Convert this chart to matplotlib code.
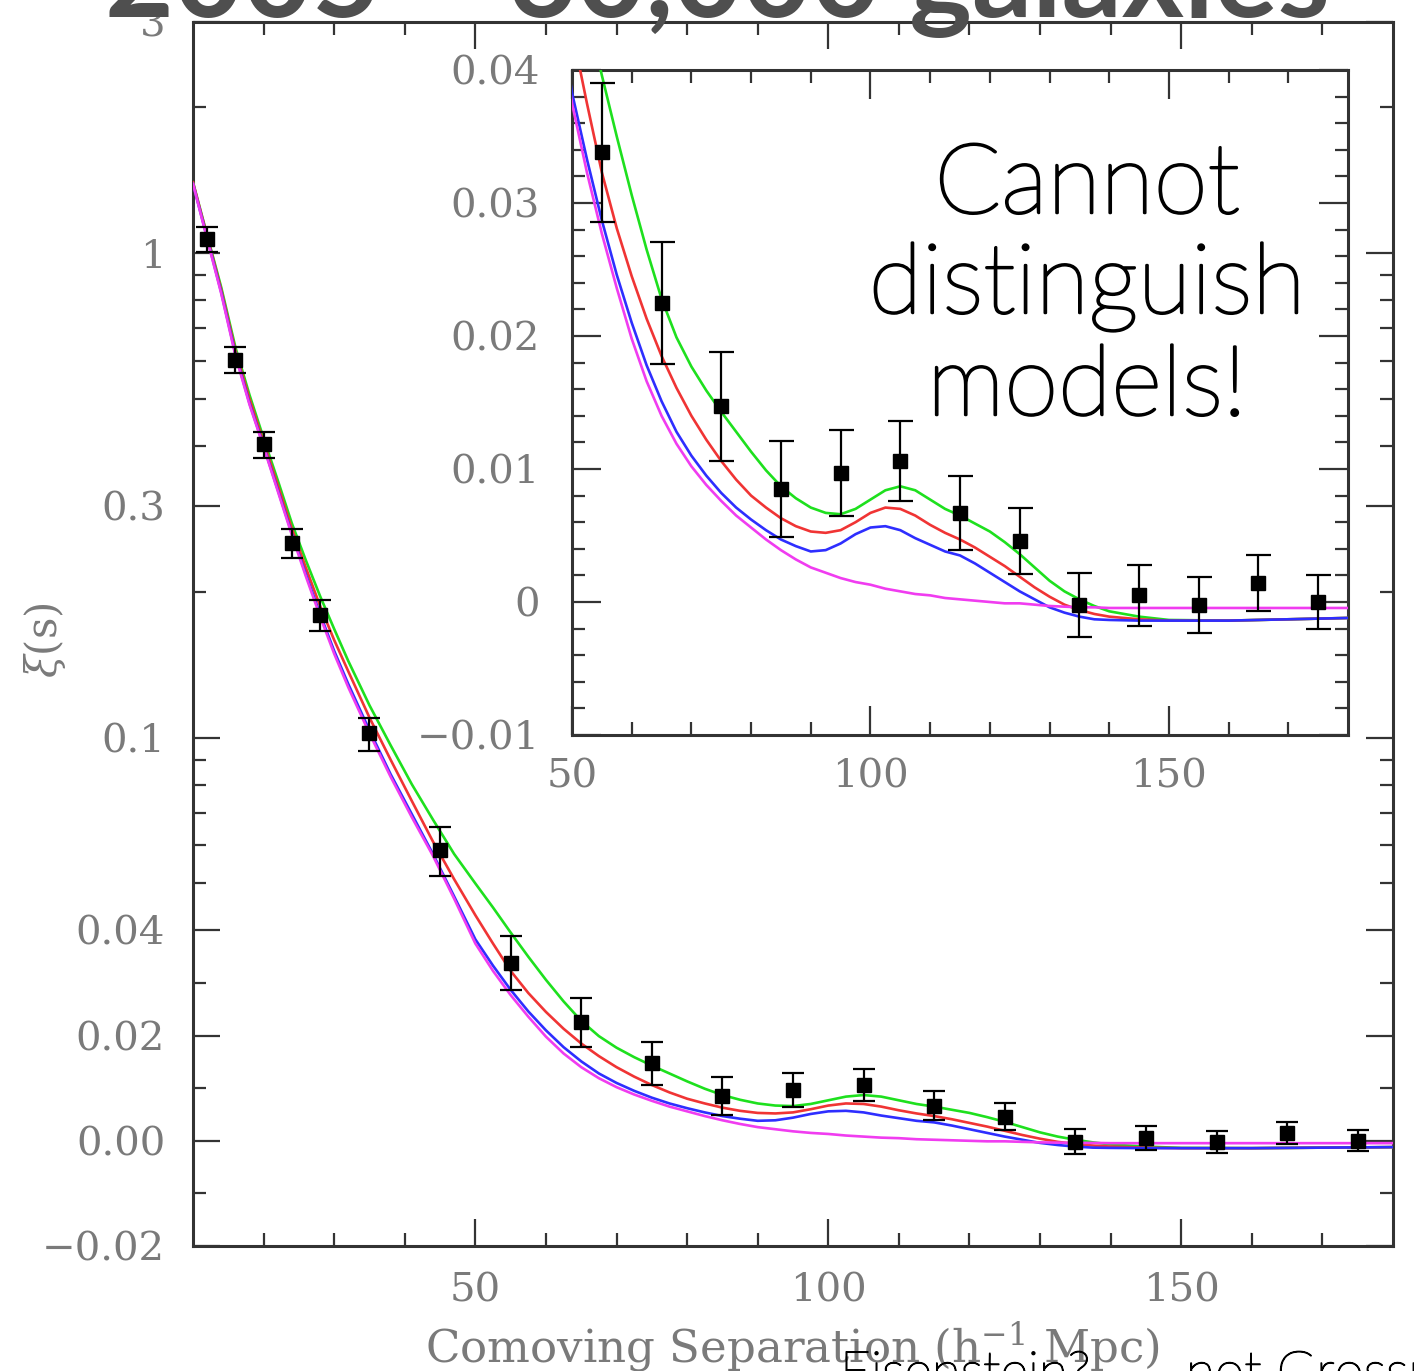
import numpy as np
import matplotlib
matplotlib.use("Agg")
import matplotlib.pyplot as plt
import matplotlib.patheffects as pe
from matplotlib.ticker import FixedLocator, FixedFormatter, NullFormatter

# ---------------- data ----------------
X_CURVE = [10, 12, 14, 16, 18, 20, 22, 24, 26, 28, 30, 32, 35, 38, 41, 44, 47,
           50, 52.5, 55, 57.5, 60, 62.5, 65, 67.5, 70, 72.5, 75, 77.5, 80, 82.5,
           85, 87.5, 90, 92.5, 95, 97.5, 100, 102.5, 105, 107.5, 110, 112.5, 115,
           117.5, 120, 122.5, 125, 127.5, 130, 132.5, 135, 137.5, 140,
           145, 150, 160, 170, 180]

GREEN = [1.40, 1.09, 0.85, 0.64, 0.51, 0.415, 0.340, 0.277, 0.232, 0.196, 0.1676, 0.1439, 0.1166, 0.0964, 0.0801, 0.0677, 0.0575,
         0.0500, 0.0446, 0.0396, 0.0350, 0.0306, 0.0265, 0.0228, 0.0199, 0.0177, 0.0159, 0.0143, 0.0128, 0.0113, 0.0099,
         0.0087, 0.0078, 0.0071, 0.0067, 0.0066, 0.0070, 0.0077, 0.0084, 0.0087, 0.0084, 0.0077, 0.0070, 0.0065,
         0.0059, 0.0053, 0.0045, 0.0036, 0.0026, 0.0016, 0.0008, 0.0002, -0.0003, -0.0007,
         -0.0011, -0.00135, -0.0014, -0.0013, -0.0012]

RED = [1.40, 1.085, 0.84, 0.63, 0.50, 0.407, 0.332, 0.270, 0.224, 0.187, 0.159, 0.137, 0.110, 0.090, 0.074, 0.061, 0.051,
       0.0430, 0.0375, 0.0323, 0.0281, 0.0245, 0.0213, 0.0185, 0.0161, 0.0140, 0.0122, 0.0106, 0.0092, 0.0080, 0.0071,
       0.0063, 0.0057, 0.0053, 0.0052, 0.0054, 0.0060, 0.0067, 0.0071, 0.0070, 0.0065, 0.0058, 0.0052, 0.0047,
       0.0041, 0.0034, 0.0027, 0.0019, 0.0011, 0.0004, -0.0002, -0.0006, -0.0009, -0.0011,
       -0.0013, -0.0014, -0.0014, -0.0013, -0.0012]

BLUE = [1.39, 1.075, 0.83, 0.62, 0.49, 0.400, 0.325, 0.264, 0.217, 0.180, 0.151, 0.129, 0.1035, 0.084, 0.0695, 0.0575, 0.0470,
        0.0383, 0.0333, 0.0287, 0.0246, 0.0210, 0.0178, 0.0151, 0.0128, 0.0110, 0.0095, 0.0082, 0.0071, 0.0062, 0.0054,
        0.0047, 0.0042, 0.0038, 0.0039, 0.0044, 0.0051, 0.0056, 0.0057, 0.0054, 0.0048, 0.0043, 0.0038, 0.0035,
        0.0029, 0.0022, 0.0015, 0.0008, 0.0002, -0.0004, -0.0008, -0.0011, -0.0013, -0.00135,
        -0.0014, -0.0014, -0.0014, -0.0013, -0.0012]

MAGENTA = [1.39, 1.07, 0.825, 0.615, 0.487, 0.398, 0.323, 0.262, 0.215, 0.178, 0.149, 0.127, 0.102, 0.083, 0.0685, 0.0570, 0.0465,
           0.0375, 0.0323, 0.0277, 0.0236, 0.0198, 0.0166, 0.0140, 0.0119, 0.0102, 0.0088, 0.0076, 0.0065, 0.0056, 0.0047,
           0.0039, 0.0032, 0.0026, 0.0022, 0.0018, 0.0015, 0.0013, 0.0010, 0.0008, 0.0006, 0.0005, 0.0003, 0.0002,
           0.0001, 0.0000, -0.0001, -0.0001, -0.0002, -0.0003, -0.00035, -0.0004, -0.0004, -0.00045,
           -0.00045, -0.00045, -0.00045, -0.00045, -0.00045]

X_DATA = [12, 16, 20, 24, 28, 35, 45, 55, 65, 75, 85, 95, 105, 115, 125, 135, 145, 155, 165, 175]
XI_DATA = [1.07, 0.603, 0.403, 0.252, 0.179, 0.102, 0.0587, 0.0338, 0.0225, 0.0147, 0.0085, 0.0097,
           0.0106, 0.0067, 0.0046, -0.0002, 0.0005, -0.0002, 0.0014, 0.0000]
XI_ERR = [0.065, 0.036, 0.025, 0.017, 0.013, 0.008, 0.0068, 0.0052, 0.0046, 0.0041, 0.0036, 0.0032,
          0.0030, 0.0028, 0.0025, 0.0024, 0.0023, 0.0021, 0.0021, 0.0020]

MAIN_YTICKS = [3, 1, 0.3, 0.1, 0.04, 0.02, 0.0, -0.02]
MAIN_YTICKLABELS = ["3", "1", "0.3", "0.1", "0.04", "0.02", "0.00", "\u22120.02"]
MAIN_YMINOR = [2, 0.9, 0.8, 0.7, 0.6, 0.5, 0.4, 0.2, 0.09, 0.08, 0.07, 0.06, 0.05, 0.03, 0.01, -0.01]
MAIN_XTICKS = [50, 100, 150]
MAIN_XMINOR = [20, 30, 40, 60, 70, 80, 90, 110, 120, 130, 140, 160, 170]

INS_YTICKS = [0.04, 0.03, 0.02, 0.01, 0.0, -0.01]
INS_YTICKLABELS = ["0.04", "0.03", "0.02", "0.01", "0", "\u22120.01"]
INS_XTICKS = [50, 100, 150]
INS_XMINOR = [60, 70, 80, 90, 110, 120, 130, 140, 160, 170]

CURVE_COLORS = ["#1ee01e", "#f03434", "#2e2eff", "#f03cf0"]

# ---------------- style ----------------
W, H = 1414, 1371
DPI = 100
plt.rcParams["mathtext.fontset"] = "dejavuserif"
GRAY = "#7a7a7a"
SPINE = "#333333"
PX = 72.0 / DPI  # points per pixel

fig = plt.figure(figsize=(W / DPI, H / DPI), dpi=DPI)
fig.patch.set_facecolor("white")


def fx(px):
    return px / W


def fy(py):
    return 1 - py / H


Y0 = 0.04


def fwd(y):
    y = np.asarray(y, dtype=float)
    out = np.array(y, copy=True)
    m = y > Y0
    out[m] = Y0 + Y0 * np.log(y[m] / Y0)
    return out


def inv(u):
    u = np.asarray(u, dtype=float)
    out = np.array(u, copy=True)
    m = u > Y0
    out[m] = Y0 * np.exp((u[m] - Y0) / Y0)
    return out


def style_axes(ax, major_len, minor_len, pad_x, pad_y):
    for s in ax.spines.values():
        s.set_color(SPINE)
        s.set_linewidth(2.2)
    ax.tick_params(which="both", direction="in", top=True, right=True,
                   color=SPINE, width=1.6, labelcolor=GRAY)
    ax.tick_params(which="major", length=major_len * PX)
    ax.tick_params(which="minor", length=minor_len * PX)
    ax.tick_params(axis="x", which="major", pad=pad_x, labelsize=29)
    ax.tick_params(axis="y", which="major", pad=pad_y, labelsize=29)
    for lab in ax.get_xticklabels() + ax.get_yticklabels():
        lab.set_fontfamily("DejaVu Serif")


# ---------------- main axes ----------------
ax = fig.add_axes([fx(193), fy(1246), (1393 - 193) / W, (1246 - 22) / H])
ax.set_yscale("function", functions=(fwd, inv))
ax.set_xlim(10, 180)
ax.set_ylim(-0.02, 3)
for c, ys in zip(CURVE_COLORS, [GREEN, RED, BLUE, MAGENTA]):
    ax.plot(X_CURVE, ys, color=c, lw=1.9, zorder=3)
ax.errorbar(X_DATA, XI_DATA, yerr=XI_ERR, fmt="s", color="black", ms=9.5,
            capsize=8, elinewidth=1.6, capthick=1.6, zorder=5)
ax.yaxis.set_major_locator(FixedLocator(MAIN_YTICKS))
ax.yaxis.set_major_formatter(FixedFormatter(MAIN_YTICKLABELS))
ax.yaxis.set_minor_locator(FixedLocator(MAIN_YMINOR))
ax.yaxis.set_minor_formatter(NullFormatter())
ax.xaxis.set_major_locator(FixedLocator(MAIN_XTICKS))
ax.xaxis.set_minor_locator(FixedLocator(MAIN_XMINOR))
ax.xaxis.set_minor_formatter(NullFormatter())
style_axes(ax, 27, 13, 19, 20)

# ---------------- inset ----------------
ins = fig.add_axes([fx(572), fy(735), (1348 - 572) / W, (735 - 70) / H])
ins.set_xlim(50, 180)
ins.set_ylim(-0.01, 0.04)
for c, ys in zip(CURVE_COLORS, [GREEN, RED, BLUE, MAGENTA]):
    ins.plot(X_CURVE, ys, color=c, lw=1.9, zorder=3)
ins.errorbar(X_DATA, XI_DATA, yerr=XI_ERR, fmt="s", color="black", ms=10,
             capsize=9, elinewidth=1.6, capthick=1.6, zorder=5)
ins.yaxis.set_major_locator(FixedLocator(INS_YTICKS))
ins.yaxis.set_major_formatter(FixedFormatter(INS_YTICKLABELS))
ins.yaxis.set_minor_locator(FixedLocator(np.arange(-0.01, 0.0401, 0.002)))
ins.yaxis.set_minor_formatter(NullFormatter())
ins.xaxis.set_major_locator(FixedLocator(INS_XTICKS))
ins.xaxis.set_minor_locator(FixedLocator(INS_XMINOR))
ins.xaxis.set_minor_formatter(NullFormatter())
style_axes(ins, 29, 13, 17, 23)

# ---------------- texts ----------------
fig.text(fx(45), fy(640), r"$\xi(\mathrm{s})$", rotation=90, ha="center", va="center",
         fontsize=30, color=GRAY)
xl = fig.text(fx(792), fy(1362), "Comoving Separation (h$^{-1}$ Mpc)", ha="center",
              va="baseline", fontsize=29, color=GRAY, family="DejaVu Serif")

title = fig.text(fx(717), fy(17), "2005 \u2013 60,000 galaxies", ha="center",
                 va="baseline", fontsize=80, fontweight="bold", color="#4f4f4f",
                 family="Lato")

thicken = [pe.withStroke(linewidth=1.8, foreground="black")]
lines = ["Cannot", "distinguish", "models!"]
baselines = [213, 313, 415]
ins_texts = [fig.text(fx(1087), fy(b), s, ha="center", va="baseline", fontsize=70,
                      fontweight="light", color="black", family="Lato", zorder=10,
                      path_effects=thicken)
             for s, b in zip(lines, baselines)]

b1 = fig.text(fx(840), fy(1389), "Eisenstein?", ha="left", va="baseline",
              fontsize=36, fontweight="light", color="black", family="Lato",
              path_effects=[pe.withStroke(linewidth=1.0, foreground="black")])
b2 = fig.text(fx(1186), fy(1389), "not Grossman", ha="left", va="baseline",
              fontsize=36, fontweight="light", color="black", family="Lato",
              path_effects=[pe.withStroke(linewidth=1.0, foreground="black")])

fig.canvas.draw()
r = fig.canvas.get_renderer()


def fit(t, target):
    w = t.get_window_extent(r).width
    t.set_fontsize(t.get_fontsize() * target / w)
    return t.get_fontsize()


fit(title, 1225)
fs = fit(ins_texts[1], 437)
for t in ins_texts:
    t.set_fontsize(fs)
fs2 = fit(b1, 250)
b2.set_fontsize(fs2)
fit(xl, 735)

fig.savefig("out.png", dpi=DPI, facecolor="white")
